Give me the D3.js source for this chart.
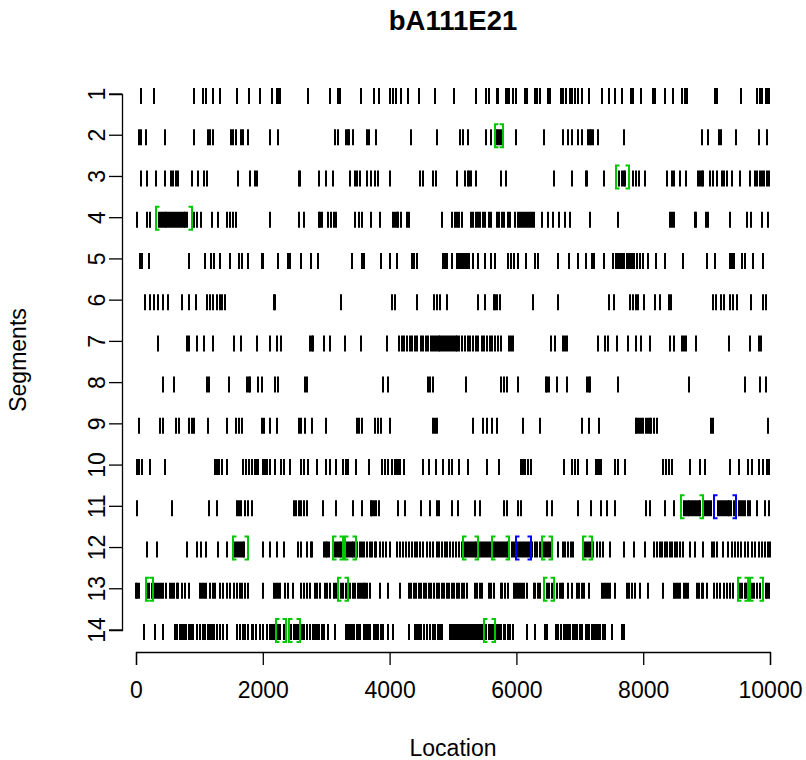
<!DOCTYPE html>
<html>
<head>
<meta charset="utf-8">
<script src="https://cdn.jsdelivr.net/npm/d3@7"></script>
<style>
  body { margin: 0; background: #fff; }
  svg { font-family: "Liberation Sans", Arial, sans-serif; }
  .axis text { font-size: 23px; fill: #000; }
  .axis path, .axis line { stroke: #000; stroke-width: 1.3; }
</style>
</head>
<body>
<svg width="806" height="760"></svg>
<script>
// segment locations (tick marks)
var seg1 = [80, 280, 920, 1060, 1110, 1210, 1320, 1600, 1790, 1960, 2150, 2220, 2240, 2270, 2720, 3060, 3190, 3220, 3550, 3760, 3830, 4010, 4060, 4100, 4180, 4290, 4470, 4710, 5020, 5370, 5520, 5560, 5690, 5710, 5830, 5860, 5890, 5940, 6000, 6130, 6170, 6290, 6330, 6380, 6500, 6530, 6700, 6740, 6780, 6840, 6880, 6920, 6970, 7030, 7150, 7350, 7460, 7550, 7670, 7800, 7840, 7970, 8160, 8190, 8340, 8470, 8610, 8660, 8690, 9140, 9160, 9540, 9790, 9840, 9880, 9930, 9960, 9990];
var seg2 = [40, 80, 150, 460, 920, 1130, 1170, 1220, 1500, 1530, 1570, 1650, 1690, 1760, 2110, 2240, 3140, 3180, 3310, 3340, 3360, 3430, 3640, 3680, 3790, 4340, 4750, 5110, 5150, 5240, 5520, 5600, 5700, 5730, 5750, 5990, 6440, 6740, 6820, 6870, 6970, 7030, 7130, 7160, 7180, 7210, 7290, 7700, 8930, 9020, 9200, 9230, 9470, 9830, 9960];
var seg3 = [80, 170, 310, 460, 550, 590, 630, 670, 890, 980, 1080, 1120, 1610, 1800, 1880, 1910, 2570, 2590, 2880, 2990, 3110, 3370, 3450, 3490, 3540, 3640, 3700, 3770, 3810, 4000, 4480, 4530, 4690, 4730, 5070, 5190, 5230, 5260, 5290, 5370, 5750, 5830, 6600, 6880, 7090, 7110, 7380, 7620, 7660, 7690, 7720, 7840, 7880, 7930, 8030, 8380, 8450, 8490, 8580, 8680, 8860, 8890, 8920, 8950, 9060, 9100, 9170, 9250, 9280, 9320, 9400, 9520, 9680, 9760, 9790, 9840, 9880, 9910, 9960, 9990];
var seg4 = [20, 170, 220, 360, 390, 420, 450, 480, 510, 540, 570, 600, 630, 660, 690, 720, 750, 780, 810, 920, 960, 1020, 1200, 1290, 1440, 1480, 1530, 1570, 2110, 2570, 2650, 2880, 2900, 2940, 3030, 3070, 3120, 3150, 3460, 3510, 3560, 3700, 3850, 4060, 4090, 4120, 4140, 4180, 4280, 4310, 4830, 4980, 5030, 5060, 5100, 5140, 5290, 5320, 5360, 5390, 5420, 5470, 5510, 5560, 5600, 5690, 5720, 5770, 5800, 5860, 5900, 5980, 6020, 6060, 6090, 6120, 6150, 6180, 6210, 6240, 6270, 6400, 6500, 6580, 6670, 6760, 6840, 7160, 7600, 8420, 8450, 8490, 8810, 8840, 8990, 9020, 9370, 9630, 9700, 9870, 9970];
var seg5 = [60, 90, 200, 830, 1090, 1190, 1230, 1320, 1480, 1630, 1670, 1770, 1980, 2010, 2240, 2390, 2430, 2600, 2760, 2870, 3410, 3570, 3600, 3870, 4000, 4120, 4350, 4390, 4440, 4850, 4880, 4900, 4990, 5060, 5100, 5130, 5160, 5190, 5220, 5240, 5260, 5310, 5400, 5500, 5600, 5670, 5860, 5920, 5970, 6020, 6150, 6290, 6340, 6650, 6830, 6970, 7100, 7200, 7230, 7380, 7530, 7570, 7610, 7640, 7670, 7700, 7740, 7770, 7800, 7830, 7860, 7910, 7950, 7990, 8070, 8200, 8350, 8630, 9000, 9140, 9370, 9400, 9440, 9560, 9600, 9730, 9890];
var seg6 = [140, 220, 290, 350, 430, 510, 730, 830, 940, 1120, 1170, 1220, 1270, 1320, 1360, 1400, 2180, 2200, 3240, 4040, 4080, 4440, 4700, 4740, 4800, 4900, 5390, 5500, 5640, 5670, 5700, 5740, 6260, 6660, 7460, 7540, 7790, 7840, 7880, 7920, 8020, 8180, 8260, 8410, 8440, 9100, 9150, 9230, 9270, 9370, 9420, 9480, 9700, 9890, 9940];
var seg7 = [350, 800, 830, 960, 1070, 1220, 1550, 1650, 1910, 2110, 2220, 2280, 2740, 2770, 2790, 2970, 3060, 3290, 3550, 3960,
  4150, 4190, 4230, 4270, 4320, 4360, 4400, 4440, 4490, 4530, 4570, 4610, 4650, 4690, 4720, 4750, 4780, 4800, 4830, 4860, 4890, 4920, 4950, 4980, 5010, 5040, 5070, 5100, 5140, 5190, 5230, 5270, 5320, 5360, 5400, 5450, 5490, 5530, 5580, 5620, 5660, 5710, 5750,
  5890, 5920, 5940, 6550, 6610, 6740, 6770, 6800, 7280, 7400, 7450, 7580, 7760, 7890, 7970, 8100, 8420, 8480, 8610, 8640, 8670, 8840, 9350, 9680, 9830, 9860];
var seg8 = [430, 600, 1120, 1150, 1470, 1750, 1780, 1800, 1930, 1980, 2190, 2240, 2670, 2700, 3900, 3970, 4600, 4640, 4680, 5210, 5750, 5810, 5850, 6020, 6460, 6490, 6510, 6640, 6800, 7110, 7140, 7160, 7610, 8720, 9610, 9850, 9940];
var seg9 = [50, 380, 430, 630, 680, 830, 880, 920, 1140, 1440, 1580, 1630, 1670, 1980, 2020, 2110, 2220, 2570, 2610, 2660, 2780, 2990, 3480, 3520, 3560, 3770, 3810, 3860, 4010, 4690, 4720, 4750, 5310, 5480, 5530, 5620, 5690, 6110, 6380, 7030, 7150, 7300, 7880, 7910, 7940, 7970, 8000, 8040, 8070, 8100, 8120, 8170, 8220, 9070, 9100, 9970];
var seg10 = [10, 40, 90, 220, 460, 1240, 1270, 1310, 1360, 1430, 1690, 1730, 1780, 1830, 1880, 1910, 1930, 2000, 2020, 2050, 2070, 2110, 2200, 2290, 2340, 2430, 2600, 2650, 2710, 2850, 2990, 3060, 3160, 3260, 3310, 3350, 3470, 3680, 3880, 3930, 3980, 4030, 4080, 4120, 4140, 4160, 4230, 4530, 4620, 4730, 4850, 4940, 4980, 5100, 5230, 5540, 5720, 6070, 6100, 6130, 6180, 6230, 6750, 6870, 6920, 6970, 7120, 7250, 7280, 7310, 7330, 7560, 7610, 7720, 8320, 8360, 8410, 8450, 8740, 8890, 8970, 9370, 9510, 9660, 9710, 9830, 9890, 9960, 9990];
var seg11 = [20, 560, 1150, 1270, 1600, 1630, 1660, 1720, 1760, 1830, 2490, 2530, 2570, 2610, 2650, 2700, 2950, 3160, 3430, 3570, 3700, 3730, 3750, 3780, 3830, 4140, 4250, 4490, 4640, 4750, 4780, 4980, 5080, 5340, 5420, 5800, 5850, 6020, 6070, 6490, 6560, 6970, 7170, 7330, 7430, 7550, 8050, 8100, 8350, 8480,
  8640, 8670, 8700, 8730, 8760, 8790, 8820, 8850, 8880, 8900, 8970, 9000, 9040, 9070, 9180, 9210, 9240, 9270, 9300, 9330, 9360, 9390, 9430, 9510, 9540, 9580, 9610, 9650, 9690, 9790, 9920, 9990];
var seg12 = [180, 330, 810, 960, 1020, 1100, 1290, 1430, 1560, 1590, 1620, 1650, 1680, 1710, 2010, 2120, 2220, 2340, 2550, 2610, 2690, 2760, 2780, 2960, 2990, 3020, 3050, 3130, 3150, 3190, 3210, 3240, 3310, 3340, 3370, 3400, 3430, 3460, 3490, 3530, 3560, 3600, 3650, 3690, 3720, 3770, 3790, 3850, 3900, 3950, 4010, 4110, 4160, 4210, 4260, 4310, 4360, 4400, 4440, 4480, 4530, 4590, 4640, 4690, 4740, 4780, 4820, 4870, 4910, 4960, 5000, 5050, 5100, 5140,
  5190, 5220, 5250, 5280, 5310, 5340, 5370, 5400, 5430, 5460, 5490, 5520, 5550, 5580, 5640, 5670, 5700, 5730, 5760, 5790, 5820, 5850, 5870, 5930, 5970, 6030, 6060, 6090, 6120, 6150, 6180, 6210, 6250, 6290, 6330, 6370, 6430, 6460, 6500, 6530, 6660, 6740, 6770, 6820, 6860, 6900, 7080, 7110, 7140, 7170, 7210, 7270, 7320, 7370, 7480, 7700, 7850, 8030, 8170,
  8220, 8260, 8300, 8340, 8380, 8420, 8460, 8500, 8540, 8580, 8630, 8740, 8820, 8950, 9080, 9110, 9160, 9260, 9340, 9400, 9450, 9500, 9550, 9610, 9660, 9710, 9760, 9820, 9870, 9920, 9970, 10000];
var seg13 = [0, 20, 50, 180, 210, 250, 300, 330, 360, 400, 430, 480, 540, 570, 600, 640, 670, 720, 770, 830, 1010, 1040, 1080, 1110, 1170, 1210, 1250, 1330, 1380, 1430, 1480, 1540, 1590, 1640, 1670, 1720, 1770, 2010, 2180, 2210, 2240, 2270, 2350, 2400, 2480, 2610, 2650, 2690, 2750, 2830, 2860, 2900, 2980, 3020, 3060, 3130, 3160, 3190, 3230, 3270, 3320, 3380, 3420, 3460, 3500, 3530, 3560, 3590, 3610, 3650, 3690, 3850, 3980, 4160,
  4300, 4340, 4380, 4420, 4460, 4500, 4540, 4580, 4620, 4660, 4700, 4740, 4780, 4820, 4860, 4900, 4940, 4980, 5020, 5060, 5100, 5140, 5180, 5220, 5350, 5380, 5420, 5450, 5560, 5600, 5640, 5750, 5780, 5820, 5870, 5960, 5990, 6030, 6060, 6090, 6120, 6160, 6270, 6300, 6340, 6370, 6480, 6520, 6560, 6640, 6680, 6720, 6740, 6820, 6870, 6950, 6980, 7030, 7060, 7140, 7350, 7380, 7410, 7440, 7470, 7560, 7740, 7770, 7820, 7870, 7950, 8080, 8320, 8480, 8510, 8550, 8580, 8640, 8680, 8710, 8850, 8880, 8920, 8950, 9000, 9110, 9160, 9210, 9270, 9320, 9370, 9420, 9520, 9560, 9600, 9620, 9710, 9750, 9790, 9840, 9930, 9960, 9990];
var seg14 = [130, 300, 430, 620, 650, 690, 720, 760, 790, 830, 860, 900, 960, 1010, 1050, 1090, 1130, 1160, 1200, 1230, 1280, 1330, 1380, 1430, 1590, 1640, 1680, 1720, 1770, 1830, 1850, 1900, 1960, 2010, 2060, 2110, 2140, 2180, 2240, 2270, 2330, 2450, 2490, 2530, 2560, 2620, 2650, 2690, 2750, 2790, 2830, 2850, 2890, 2930, 2960, 3030, 3140, 3320, 3350, 3380, 3410, 3440, 3480, 3510, 3530, 3590, 3620, 3660, 3690, 3750, 3780, 3820, 3860, 3900, 3980, 4060, 4300, 4400, 4430, 4460, 4500, 4540, 4590, 4640, 4680, 4720, 4760, 4800, 4820,
  4960, 4990, 5020, 5050, 5080, 5110, 5140, 5170, 5200, 5230, 5270, 5300, 5330, 5360, 5390, 5420, 5450, 5480, 5520, 5560, 5600, 5630, 5690, 5720, 5760, 5800, 5820, 5860, 5900, 5940, 6160, 6290, 6450, 6480, 6630, 6660, 6700, 6750, 6780, 6810, 6850, 6900, 6930, 6960, 7000, 7030, 7090, 7120, 7150, 7190, 7220, 7250, 7280, 7320, 7370, 7400, 7500, 7660, 7700];

var segments = [seg1, seg2, seg3, seg4, seg5, seg6, seg7, seg8, seg9, seg10, seg11, seg12, seg13, seg14];

// bracketed regions: [segment, start, end]
var greenRegions = [[2, 5660, 5790], [3, 7570, 7770], [4, 310, 890], [11, 8590, 8940],
  [12, 1530, 1760], [12, 3100, 3270], [12, 3300, 3470], [12, 5160, 5400], [12, 5620, 5890], [12, 6400, 6560], [12, 7050, 7200],
  [13, 150, 270], [13, 3190, 3350], [13, 6440, 6600], [13, 9490, 9650], [13, 9680, 9890],
  [14, 2210, 2360], [14, 2420, 2590], [14, 5490, 5660]];
var blueRegions = [[11, 9120, 9460], [12, 6000, 6230]];

var xTicks = [0, 2000, 4000, 6000, 8000, 10000];
var yTicks = d3.range(1, 15);

var svg = d3.select("svg");

var x = d3.scaleLinear().domain([0, 10000]).range([136, 770]);
var y = d3.scaleLinear().domain([1, 14]).range([94, 630]);

// title
svg.append("text")
  .attr("x", 453).attr("y", 30)
  .attr("text-anchor", "middle")
  .style("font-size", "27.5px").style("font-weight", "bold")
  .text("bA111E21");

// x axis
var xAxis = svg.append("g")
  .attr("class", "axis")
  .attr("transform", "translate(0,652)")
  .call(d3.axisBottom(x).tickValues(xTicks).tickFormat(d3.format("d")).tickSize(13).tickPadding(17));
xAxis.selectAll("text").attr("dy", "0.71em");

// y axis
var yAxis = svg.append("g")
  .attr("class", "axis")
  .attr("transform", "translate(122,0)")
  .call(d3.axisLeft(y).tickValues(yTicks).tickFormat(d3.format("d")).tickSize(13));
yAxis.selectAll(".tick").attr("transform", null);
yAxis.selectAll(".tick line").attr("y1", function(d) { return y(d); }).attr("y2", function(d) { return y(d); });
yAxis.selectAll(".tick text")
  .attr("transform", function(d) { return "translate(-17," + y(d) + ") rotate(-90)"; })
  .attr("x", 0).attr("y", 0).attr("dy", "0")
  .attr("text-anchor", "middle");

// axis titles
svg.append("text")
  .attr("x", 453).attr("y", 756)
  .attr("text-anchor", "middle")
  .style("font-size", "23px")
  .text("Location");

svg.append("text")
  .attr("transform", "translate(26,360) rotate(-90)")
  .attr("text-anchor", "middle")
  .style("font-size", "23px")
  .text("Segments");

// tick marks for each segment
var rows = svg.append("g").attr("class", "rows");
segments.forEach(function(locs, i) {
  var yy = y(i + 1);
  rows.append("g")
    .selectAll("line")
    .data(locs)
    .enter()
    .append("line")
      .attr("x1", function(d) { return Math.round(x(d)); })
      .attr("x2", function(d) { return Math.round(x(d)); })
      .attr("y1", yy - 6)
      .attr("y2", yy + 10)
      .attr("stroke", "#000")
      .attr("stroke-width", 2);
});

// brackets
var bracket = function(regions, colour) {
  var g = svg.append("g");
  var arm = 3.5;
  g.selectAll("path.open")
    .data(regions)
    .enter()
    .append("path")
      .attr("d", function(d) {
        var xs = Math.round(x(d[1])), yy = y(d[0]);
        return "M" + (xs + arm) + "," + (yy - 11) + "H" + xs + "V" + (yy + 12) + "H" + (xs + arm);
      })
      .attr("fill", "none")
      .attr("stroke", colour)
      .attr("stroke-width", 2);
  g.selectAll("path.close")
    .data(regions)
    .enter()
    .append("path")
      .attr("d", function(d) {
        var xe = Math.round(x(d[2])), yy = y(d[0]);
        return "M" + (xe - arm) + "," + (yy - 11) + "H" + xe + "V" + (yy + 12) + "H" + (xe - arm);
      })
      .attr("fill", "none")
      .attr("stroke", colour)
      .attr("stroke-width", 2);
};
bracket(greenRegions, "#00c800");
bracket(blueRegions, "#0000ff");
</script>
</body>
</html>
